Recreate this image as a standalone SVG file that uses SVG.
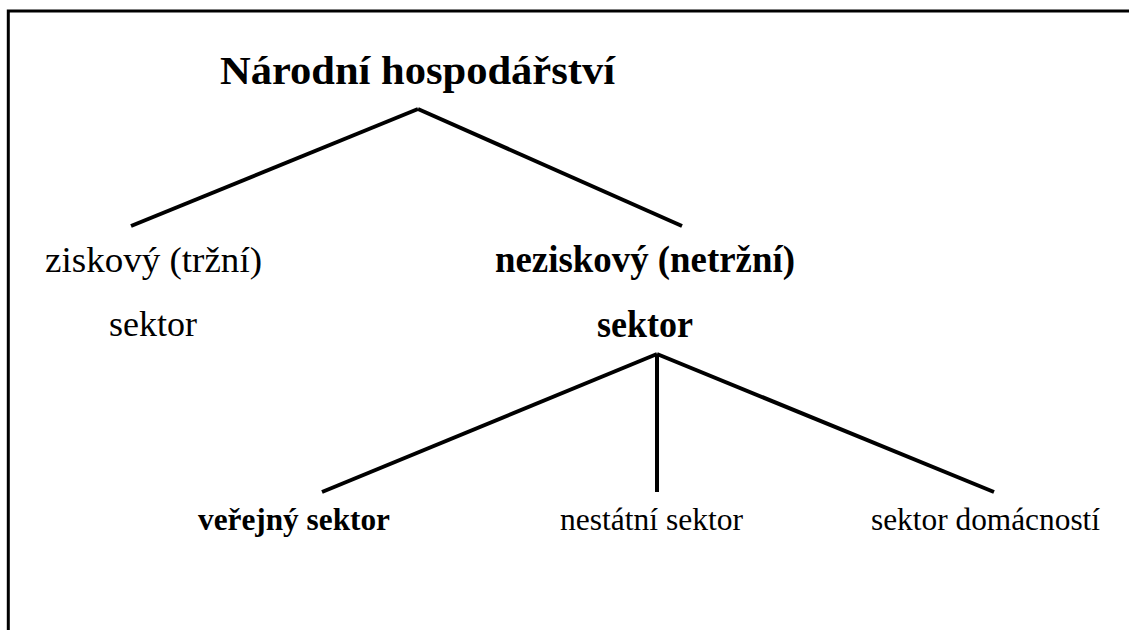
<svg xmlns="http://www.w3.org/2000/svg" width="1129" height="630" viewBox="0 0 1129 630">
<style>
  text { font-family: "Liberation Serif", "Times New Roman", serif; fill: #000; }
  .b { font-weight: bold; }
  .edge { stroke: #000; stroke-width: 4; fill: none; stroke-linecap: butt; }
  .frame { stroke: #000; stroke-width: 3; fill: none; }
</style>
<rect width="1129" height="630" fill="#fff"/>
<path class="frame" d="M8.3,630 V11 H1129"/>
<g id="connectors">
  <line class="edge" x1="418" y1="109" x2="131" y2="226"/>
  <line class="edge" x1="418" y1="109" x2="682" y2="226"/>
  <line class="edge" x1="657" y1="354" x2="322" y2="492"/>
  <line class="edge" x1="657" y1="354" x2="657" y2="492"/>
  <line class="edge" x1="657" y1="354" x2="994" y2="492"/>
</g>
<g id="root">
  <text class="b" x="220" y="84" font-size="40" textLength="395" lengthAdjust="spacingAndGlyphs">Národní hospodářství</text>
</g>
<g id="ziskovy">
  <text x="45" y="272" font-size="36" textLength="217" lengthAdjust="spacingAndGlyphs">ziskový (tržní)</text>
  <text x="109" y="336" font-size="36" textLength="88" lengthAdjust="spacingAndGlyphs">sektor</text>
</g>
<g id="neziskovy">
  <text class="b" x="495" y="272" font-size="37" textLength="300" lengthAdjust="spacingAndGlyphs">neziskový (netržní)</text>
  <text class="b" x="597" y="337" font-size="37" textLength="96" lengthAdjust="spacingAndGlyphs">sektor</text>
</g>
<g id="verejny">
  <text class="b" x="198" y="530" font-size="32" textLength="192" lengthAdjust="spacingAndGlyphs">veřejný sektor</text>
</g>
<g id="nestatni">
  <text x="560" y="530" font-size="32" textLength="183" lengthAdjust="spacingAndGlyphs">nestátní sektor</text>
</g>
<g id="domacnosti">
  <text x="871" y="530" font-size="32" textLength="229" lengthAdjust="spacingAndGlyphs">sektor domácností</text>
</g>
</svg>
